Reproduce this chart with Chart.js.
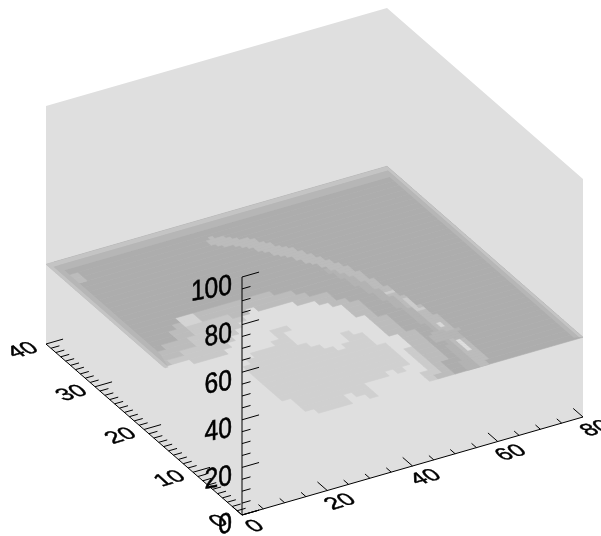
<!DOCTYPE html>
<html>
<head>
<meta charset="utf-8">
<title>Surface</title>
<script src="https://cdn.jsdelivr.net/npm/chart.js@4"></script>
<style>
html, body { margin: 0; padding: 0; background: #fff; }
canvas { display: block; filter: blur(0.6px); }
</style>
</head>
<body>
<canvas id="grafico" width="601" height="536"></canvas>
<script>
// Axis ticks
var xMajor = [0, 20, 40, 60, 80];
var xMinor = [5, 10, 15, 25, 30, 35, 45, 50, 55, 65, 70, 75];
var yMajor = [0, 10, 20, 30, 40];
var yMinor = [1, 2, 3, 4, 5, 6, 7, 8, 9, 11, 12, 13, 14, 15, 16, 17, 18, 19, 21, 22, 23, 24, 25, 26, 27, 28, 29, 31, 32, 33, 34, 35, 36, 37, 38, 39];
var zMajor = [0, 20, 40, 60, 80, 100];
var zMinor = [5, 10, 15, 25, 30, 35, 45, 50, 55, 65, 70, 75, 85, 90, 95];

// Height of the shaded surface
var surfaceZ = 33.5;

// Shade regions, as [x, y] outlines, later ones on top
var ringOutline = [[0,15.7],[0,40],[80,40],[80,0],[44.8,0],[44.4,1.7],[46.6,4.2],[47.2,8.3],[46.5,12.9],[44.4,16.5],[41,19.1],[35.2,20.8],[30.3,21.3],[26.7,21.6],[23.7,20.6],[17.9,17.6],[13.2,15.4]];
var leftPatch = [[0,15.6],[5.3,17.2],[9.9,18.2],[13.1,22],[20.4,22.2],[23.7,20.6],[17.9,17.6],[13.2,15.4]];
var rightPatch = [[47.2,8.3],[46.6,4.2],[44.4,1.7],[44.8,0],[46.5,0],[48,4],[49,8]];
var darkOutline = [[2,18.4],[7.6,20.7],[12.2,23.9],[17.4,24.3],[27.6,24.4],[36.1,23.1],[41.9,21.2],[47.6,18],[49.2,14],[51.5,9.1],[52.1,5],[48.7,0],[80,0],[80,40],[2,40]];
var blob = [[14,11.2],[18,13.6],[20.8,14.4],[24.3,13.4],[25.1,15.7],[26.9,17.3],[29.5,16.5],[28.2,14.1],[31,11.7],[34.5,10],[39.1,12.7],[41,11.6],[41.4,9.9],[44.5,7.9],[43.7,4.4],[41.1,3],[39.7,4.3],[35.9,3],[31.9,3.1],[31.5,0],[27.2,2.3],[26.5,0],[20,0],[15.5,1.7],[14.1,7.1]];
var spotA = [[1,35],[4,35],[4,37.5],[1,37.5]];
var spotB = [[12,22],[16,22],[16,24.5],[12,24.5]];

// Thin arc, drawn on a finer grid
var innerBand = [[47.3,26.2],[51.8,22.6],[54.7,16.4],[56.5,10.7],[56.2,5.4],[55.5,0],[53,0],[55.1,7.6],[53.6,14.4],[50.2,21.2]];
var streak = [[34.3,36.7],[41.4,33.9],[47.4,29.7],[53.2,23.8],[56.1,17.6],[59.1,9.9],[59.3,3.4],[58.2,0],[55.5,0],[56.2,5.4],[56.5,10.7],[54.7,16.4],[51.8,22.4],[45.7,27.9],[39.8,32.2],[33,35.4]];
var crossStrip = [[54,8.6],[59.7,7.9],[58.6,6.1],[52.5,6.7]];
var glintA = [[54.2,17.3],[55.8,17.3],[55.8,18.2],[54.2,18.2]];
var glintB = [[55.5,15.5],[56.5,15.8],[57.7,13],[56.7,12.8]];
var glintC = [[57,9],[58.4,9],[58.4,10.2],[57,10.2]];
var glintD = [[57.5,5.8],[58.4,5.8],[58,3.4],[57.1,3.4]];

var regionesGruesas = [
    { outline: ringOutline, color: '#bcbcbc' },
    { outline: leftPatch, color: '#c8c8c8' },
    { outline: rightPatch, color: '#cbcbcb' },
    { outline: darkOutline, color: '#adadad' },
    { outline: blob, color: '#d0d0d0' },
    { outline: spotA, color: '#bcbcbc' },
    { outline: spotB, color: '#d4d4d4' }
];
var regionesFinas = [
    { outline: innerBand, color: '#b3b3b3' },
    { outline: streak, color: '#bcbcbc' },
    { outline: crossStrip, color: '#b6b6b6' },
    { outline: glintA, color: '#cecece' },
    { outline: glintB, color: '#cccccc' },
    { outline: glintC, color: '#d8d8d8' },
    { outline: glintD, color: '#dedede' }
];

// Thin bands along the far edges of the surface
var edgeOuter = [[0,15.7],[0,40],[80,40],[80,0],[79.3,0.2],[79.3,39.2],[0.8,39.2],[0.8,15.7]];
var edgeInner = [[0.8,15.7],[0.8,39.2],[79.3,39.2],[79.3,0.2],[78.3,0.4],[78.3,38],[2,38],[2,18.4]];

// Box projection, page units per data unit
var origen = { x: 242, y: 515 };
var ejeX = { x: 4.2625, y: -1.225 };
var ejeY = { x: -4.9, y: -4.275 };
var ejeZ = { x: 0, y: -2.38 };

function proyectar(x, y, z) {
    return {
        x: origen.x + x * ejeX.x + y * ejeY.x + z * ejeZ.x,
        y: origen.y + x * ejeX.y + y * ejeY.y + z * ejeZ.y
    };
}

function dentro(px, py, poly) {
    var hit = false;
    for (var i = 0, j = poly.length - 1; i < poly.length; j = i++) {
        var a = poly[i], b = poly[j];
        if ((a[1] > py) !== (b[1] > py) && px < (b[0] - a[0]) * (py - a[1]) / (b[1] - a[1]) + a[0]) hit = !hit;
    }
    return hit;
}

function colorCelda(regiones, x, y) {
    var color = null;
    regiones.forEach(function (r) {
        if (dentro(x, y, r.outline)) color = r.color;
    });
    return color;
}

var datasets = [];

function agregar(puntos, opciones) {
    datasets.push({
        data: puntos,
        showLine: true,
        pointRadius: 0,
        borderWidth: opciones.ancho,
        borderColor: opciones.linea,
        backgroundColor: opciones.relleno || 'transparent',
        fill: opciones.relleno ? 'shape' : false,
        tension: 0,
        spanGaps: false
    });
}

function poligono(outline, z, color, ancho) {
    var puntos = outline.map(function (p) { return proyectar(p[0], p[1], z); });
    puntos.push(puntos[0]);
    agregar(puntos, { ancho: ancho, linea: color, relleno: color });
}

// Surface cells, merged into runs along each row
function rasterizar(regiones, pasoX, pasoY) {
    for (var fila = 0; fila < 40; fila += pasoY) {
        var inicio = 0;
        var actual = colorCelda(regiones, pasoX / 2, fila + pasoY / 2);
        for (var col = pasoX; col <= 80; col += pasoX) {
            var c = col < 80 ? colorCelda(regiones, col + pasoX / 2, fila + pasoY / 2) : undefined;
            if (c !== actual) {
                if (actual) poligono([[inicio, fila], [col, fila], [col, fila + pasoY], [inicio, fila + pasoY]], surfaceZ, actual, 0.6);
                inicio = col;
                actual = c;
            }
        }
    }
}

// Box silhouette, all one light grey
var caja = [proyectar(0, 40, 0), proyectar(0, 0, 0), proyectar(80, 0, 0), proyectar(80, 0, 100), proyectar(80, 40, 100), proyectar(0, 40, 100)];
caja.push(caja[0]);
agregar(caja, { ancho: 0, linea: '#dfdfdf', relleno: '#dfdfdf' });

rasterizar(regionesGruesas, 2, 1);
rasterizar(regionesFinas, 1, 0.5);

poligono(edgeInner, surfaceZ, '#b6b6b6', 0);
poligono(edgeOuter, surfaceZ, '#c4c4c4', 0);

// Axis lines and tick marks
function marcas(valores, desde, hasta) {
    var puntos = [];
    valores.forEach(function (v) {
        puntos.push(desde(v), hasta(v), { x: null, y: null });
    });
    agregar(puntos, { ancho: 1, linea: '#000' });
}

agregar([proyectar(0, 0, 0), proyectar(80, 0, 0)], { ancho: 1, linea: '#000' });
agregar([proyectar(0, 0, 0), proyectar(0, 40, 0)], { ancho: 1, linea: '#000' });
agregar([proyectar(0, 0, 0), proyectar(0, 0, 100)], { ancho: 1, linea: '#000' });

marcas(xMajor, function (v) { return proyectar(v, 0, 0); }, function (v) { return proyectar(v, 2, 0); });
marcas(xMinor, function (v) { return proyectar(v, 0, 0); }, function (v) { return proyectar(v, 1, 0); });
marcas(yMajor, function (v) { return proyectar(0, v, 0); }, function (v) { return proyectar(4, v, 0); });
marcas(yMinor, function (v) { return proyectar(0, v, 0); }, function (v) { return proyectar(2, v, 0); });
marcas(zMajor, function (v) { return proyectar(0, 0, v); }, function (v) { return proyectar(4, 0, v); });
marcas(zMinor, function (v) { return proyectar(0, 0, v); }, function (v) { return proyectar(2, 0, v); });

// First dataset is painted first
datasets.forEach(function (ds, i) { ds.order = datasets.length - i; });

function rotulo(ctx, texto, p, base, arriba, alinear) {
    ctx.save();
    ctx.transform(base.x, base.y, -arriba.x, -arriba.y, p.x, p.y);
    ctx.textAlign = alinear;
    ctx.textBaseline = 'middle';
    ctx.lineWidth = 0.5;
    ctx.strokeText(texto, 0, 0);
    ctx.fillText(texto, 0, 0);
    ctx.restore();
}

var rotulos = {
    id: 'rotulos',
    afterDatasetsDraw: function (chart) {
        var ctx = chart.ctx;
        var sx = chart.scales.x, sy = chart.scales.y;
        function aPixel(p) {
            return { x: sx.getPixelForValue(p.x), y: sy.getPixelForValue(p.y) };
        }
        var base = { x: 0.96, y: -0.28 };
        var arriba = { x: -0.68, y: -0.62 };
        ctx.save();
        ctx.fillStyle = '#000';
        ctx.strokeStyle = '#000';
        ctx.font = '24px "Liberation Sans"';
        xMajor.forEach(function (v) {
            rotulo(ctx, String(v), aPixel(proyectar(v, -2.7, 0)), base, arriba, 'center');
        });
        yMajor.forEach(function (v) {
            rotulo(ctx, String(v), aPixel(proyectar(-5.4, v, 0)), base, arriba, 'center');
        });
        ctx.font = '25px "Liberation Sans"';
        zMajor.forEach(function (v) {
            var p = aPixel(proyectar(0, 0, v));
            p.x -= 10;
            p.y += 9;
            rotulo(ctx, String(v), p, { x: 0.985, y: -0.17 }, { x: 0, y: -1.15 }, 'right');
        });
        ctx.restore();
    }
};

new Chart(document.getElementById('grafico').getContext('2d'), {
    type: 'scatter',
    data: { datasets: datasets },
    options: {
        responsive: false,
        animation: false,
        events: [],
        layout: { padding: 0 },
        plugins: {
            legend: { display: false },
            tooltip: { enabled: false }
        },
        scales: {
            x: { type: 'linear', display: false, min: 0, max: 601 },
            y: { type: 'linear', display: false, min: 0, max: 536, reverse: true }
        }
    },
    plugins: [rotulos]
});
</script>
</body>
</html>
